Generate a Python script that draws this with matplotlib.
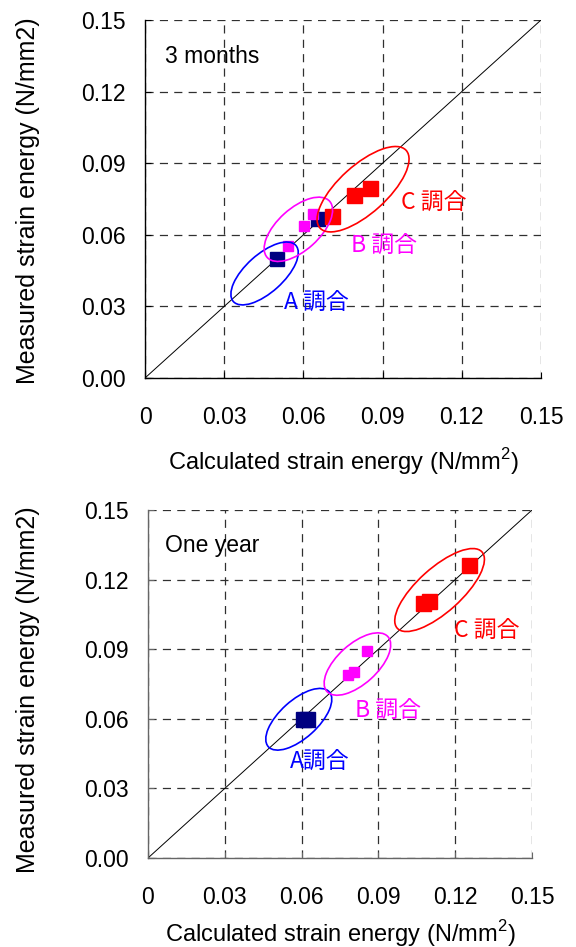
import matplotlib
matplotlib.use("Agg")
import matplotlib.pyplot as plt
from matplotlib.patches import Ellipse
from matplotlib.transforms import ScaledTranslation

plt.rcParams['font.family'] = ['Liberation Sans', 'Noto Sans CJK JP', 'DejaVu Sans']
plt.rcParams['mathtext.fontset'] = 'custom'
plt.rcParams['mathtext.rm'] = 'Liberation Sans'

DPI = 100

# ---- data: (calculated, measured) strain energy, N/mm2 ----
ticks = [0.0, 0.03, 0.06, 0.09, 0.12, 0.15]
xtick_labels = ['0', '0.03', '0.06', '0.09', '0.12', '0.15']
ytick_labels = ['0.00', '0.03', '0.06', '0.09', '0.12', '0.15']

m3_a_calc = [0.0499, 0.0656]
m3_a_meas = [0.0499, 0.0665]
m3_b_calc = [0.0543, 0.0604, 0.0635]
m3_b_meas = [0.0553, 0.0638, 0.0686]
m3_c_calc = [0.0710, 0.0793, 0.0852]
m3_c_meas = [0.0677, 0.0767, 0.0795]

y1_a_calc = [0.0604, 0.0623]
y1_a_meas = [0.0600, 0.0598]
y1_b_calc = [0.0783, 0.0806, 0.0857]
y1_b_meas = [0.0789, 0.0800, 0.0894]
y1_c_calc = [0.1075, 0.1099, 0.1255]
y1_c_meas = [0.1100, 0.1108, 0.1263]

NAVY, MAG, RED, BLUE = '#000080', '#FF00FF', '#FF0000', '#0000FF'

fig = plt.figure(figsize=(5.76, 9.47), dpi=DPI)
ax1 = fig.add_axes([145/576, 1-378/947, 396/576, 358/947])
ax2 = fig.add_axes([148/576, 1-858/947, 384/576, 348/947])


def ring(ax, cx, cy, a_px, b_px, ang, color):
    """Ellipse outline sized in pixels, centred on a data point."""
    tr = fig.dpi_scale_trans + ScaledTranslation(cx, cy, ax.transData)
    e = Ellipse((0, 0), 2*a_px/DPI, 2*b_px/DPI, angle=ang, fill=False,
                ec=color, lw=1.2, transform=tr, clip_on=False, zorder=5)
    ax.add_patch(e)


def style(ax, spine_color):
    ax.set_xlim(0, 0.15)
    ax.set_ylim(0, 0.15)
    ax.set_xticks(ticks)
    ax.set_yticks(ticks)
    ax.set_xticklabels(xtick_labels)
    ax.set_yticklabels(ytick_labels)
    ax.tick_params(axis='both', direction='in', length=4, width=0.8,
                   labelsize=16.5, color=spine_color)
    ax.tick_params(axis='x', pad=20)
    ax.tick_params(axis='y', pad=14)
    for s in ('top', 'right'):
        ax.spines[s].set_visible(False)
    for s in ('left', 'bottom'):
        ax.spines[s].set_color(spine_color)
        ax.spines[s].set_linewidth(1.0)
    ax.grid(True, color='#303030', lw=0.9, linestyle=(0, (6.5, 5)))
    ax.set_axisbelow(True)
    ax.plot([0, 0.15], [0, 0.15], color='black', lw=0.7, zorder=2)
    ax.set_xlabel('Calculated strain energy (N/mm$^\\mathregular{2}$)', fontsize=17)
    ax.set_ylabel('Measured strain energy (N/mm2)', fontsize=18)


style(ax1, 'black')
style(ax2, '#666666')

ax1.xaxis.set_label_coords(0.5, -0.19)
ax1.yaxis.set_label_coords(-0.265, 0.494)
ax2.xaxis.set_label_coords(0.5, -0.172)
ax2.yaxis.set_label_coords(-0.281, 0.485)

# 3 months
ax1.plot(m3_a_calc, m3_a_meas, 's', color=NAVY, ms=10, zorder=3, clip_on=False)
ax1.plot(m3_b_calc, m3_b_meas, 's', color=MAG, ms=7.2, zorder=3.1, clip_on=False)
ax1.plot(m3_c_calc, m3_c_meas, 's', color=RED, ms=10.8, zorder=3.2, clip_on=False)
ring(ax1, 0.0453, 0.0438, 42, 19, 42, BLUE)
ring(ax1, 0.0581, 0.0623, 42, 21, 42, MAG)
ring(ax1, 0.0826, 0.0791, 58, 24, 42, RED)
cjk = ['Noto Sans CJK JP']
ax1.text(0.0648, 0.0314, 'A 調合', color=BLUE, fontsize=16.5, family=cjk, ha='center', va='center')
ax1.text(0.0905, 0.0553, 'B 調合', color=MAG, fontsize=16.5, family=cjk, ha='center', va='center')
ax1.text(0.1095, 0.0733, 'C 調合', color=RED, fontsize=16.5, family=cjk, ha='center', va='center')
ax1.text(0.0076, 0.1345, '3 months', fontsize=16.5, ha='left', va='center')

# one year
ax2.plot(y1_a_calc, y1_a_meas, 's', color=NAVY, ms=10.8, zorder=3, clip_on=False)
ax2.plot(y1_b_calc, y1_b_meas, 's', color=MAG, ms=7.2, zorder=3.1, clip_on=False)
ax2.plot(y1_c_calc, y1_c_meas, 's', color=RED, ms=10.8, zorder=3.2, clip_on=False)
ring(ax2, 0.0589, 0.0598, 41, 19, 42, BLUE)
ring(ax2, 0.0818, 0.0836, 41, 20, 42, MAG)
ring(ax2, 0.1139, 0.1155, 57, 22, 42, RED)
ax2.text(0.0672, 0.0414, 'A調合', color=BLUE, fontsize=16.5, family=cjk, ha='center', va='center')
ax2.text(0.0938, 0.0634, 'B 調合', color=MAG, fontsize=16.5, family=cjk, ha='center', va='center')
ax2.text(0.1324, 0.0978, 'C 調合', color=RED, fontsize=16.5, family=cjk, ha='center', va='center')
ax2.text(0.0066, 0.1345, 'One year', fontsize=16.5, ha='left', va='center')

fig.savefig('out.png', dpi=DPI)
